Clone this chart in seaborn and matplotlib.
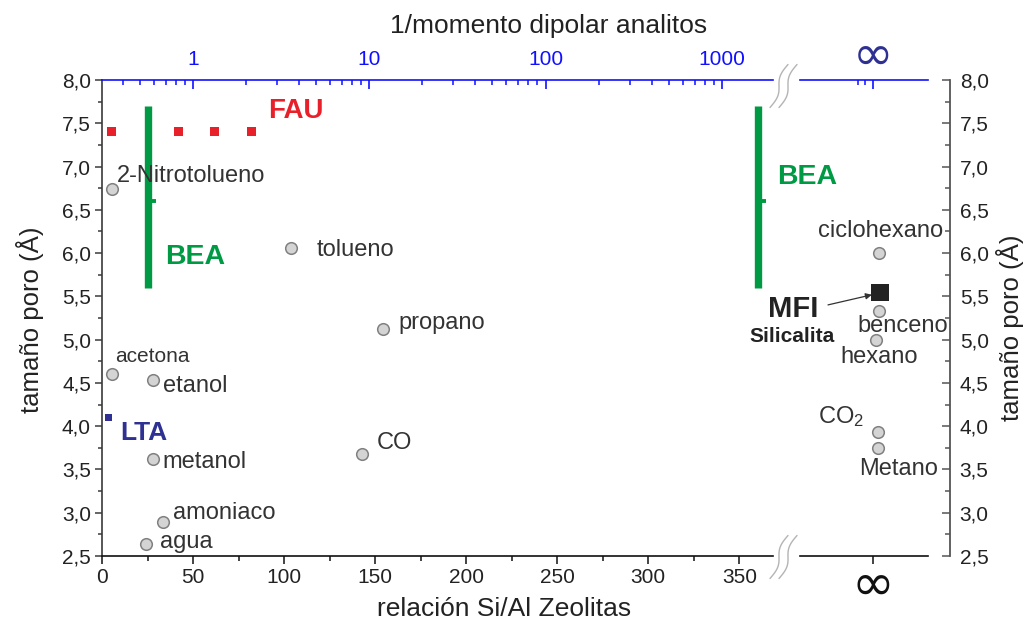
import numpy as np
import pandas as pd
import seaborn as sns
import matplotlib
matplotlib.use("Agg")
import matplotlib.pyplot as plt
from matplotlib.lines import Line2D
from matplotlib.ticker import FixedLocator, LogLocator, FuncFormatter, MultipleLocator, NullFormatter

# ---------------- data ----------------
polar_names = ["2-Nitrotolueno", "acetona", "etanol", "metanol", "tolueno",
               "propano", "CO", "amoniaco", "agua"]
polar_inv_dipole = [0.346, 0.349, 0.596, 0.591, 3.58, 12.0, 9.06, 0.678, 0.539]
polar_pore = [6.74, 4.60, 4.53, 3.62, 6.06, 5.12, 3.68, 2.89, 2.64]

apolar_names = ["ciclohexano", "benceno", "hexano", "CO$_2$", "Metano"]
apolar_pos = [6, 6, 3, 5, 5]          # position in the "infinity" panel (0 = ∞ tick)
apolar_pore = [6.00, 5.33, 5.00, 3.93, 3.75]

fau_si_al = [5, 42, 62, 82]
fau_pore = [7.4, 7.4, 7.4, 7.4]
bea_si_al = [25, 360.4]
bea_pore_min = 5.6
bea_pore_max = 7.7
bea_pore_mid = 6.6
lta_si_al = [3.5]
lta_pore = [4.1]
mfi_pos = [7]
mfi_pore = [5.54]

top_ticks = [1, 10, 100, 1000]
bottom_ticks = [0, 50, 100, 150, 200, 250, 300, 350]

# label offsets in pixels (dx, dy, ha)
polar_off = {"2-Nitrotolueno": (5, 7, "left"), "acetona": (3, 12, "left"),
             "etanol": (10, -12, "left"), "metanol": (10, -9, "left"),
             "tolueno": (26, -8, "left"), "propano": (15, 0, "left"),
             "CO": (15, 5, "left"), "amoniaco": (10, 3, "left"),
             "agua": (14, -4, "left")}
apolar_off = {"ciclohexano": (1.5, 16, "center"), "benceno": (24, -21, "center"),
              "hexano": (3, -23, "center"), "CO$_2$": (-60, 9, "left"),
              "Metano": (21, -27, "center")}

# ---------------- styling ----------------
sns.set_theme(style="ticks")
plt.rcParams["font.family"] = ["Liberation Sans", "DejaVu Sans"]
plt.rcParams["mathtext.fontset"] = "custom"
plt.rcParams["mathtext.rm"] = "Liberation Sans"
plt.rcParams["mathtext.it"] = "Liberation Sans:italic"
plt.rcParams["mathtext.bf"] = "Liberation Sans:bold"

RED = "#e8202a"
GREEN = "#009a44"
INDIGO = "#2e3192"
BLUE = "#1010ff"
TXT = "#333333"
AX = "#3a3a3a"

W, H = 1025, 621
fig = plt.figure(figsize=(W / 100, H / 100), dpi=100)


def fx(px):
    return px / W


def fy(py):
    return 1 - py / H


ax_h = (556 - 80) / H
ax1 = fig.add_axes([fx(102), fy(556), (773 - 102) / W, ax_h])
ax2 = fig.add_axes([fx(800), fy(556), (928 - 800) / W, ax_h], sharey=ax1)
ax2.patch.set_visible(False)

# ---------------- left panel (Si/Al axis) ----------------
for side in ["top", "right"]:
    ax1.spines[side].set_visible(False)
ax1.spines["left"].set_color(AX)
ax1.spines["left"].set_linewidth(1.2)
ax1.spines["bottom"].set_color("#111111")
ax1.spines["bottom"].set_linewidth(1.2)

ax1.vlines(bea_si_al, bea_pore_min, bea_pore_max, color=GREEN, lw=5.3, zorder=3,
           capstyle="butt")
for xb in bea_si_al:
    ax1.hlines(bea_pore_mid, xb, xb + 4.5, color=GREEN, lw=2.8, zorder=3)
sns.scatterplot(x=fau_si_al, y=fau_pore, ax=ax1, marker="s", s=42, color=RED,
                edgecolor="none", zorder=4)
sns.scatterplot(x=lta_si_al, y=lta_pore, ax=ax1, marker="s", s=30, color=INDIGO,
                edgecolor="none", zorder=4)

ax1.set_xlim(0, 368.5)
ax1.set_ylim(2.5, 8.0)
ax1.xaxis.set_major_locator(FixedLocator(bottom_ticks))
ax1.xaxis.set_minor_locator(MultipleLocator(25))
ax1.yaxis.set_major_locator(MultipleLocator(0.5))
ax1.yaxis.set_minor_locator(MultipleLocator(0.25))
ax1.yaxis.set_major_formatter(FuncFormatter(lambda v, p: f"{v:.1f}".replace(".", ",")))
ax1.tick_params(axis="x", which="major", direction="out", length=5.5, width=1.1,
                colors="#111111", labelsize=15, pad=3, labelcolor="#222222")
ax1.tick_params(axis="x", which="minor", direction="out", length=3.5, width=1.1,
                colors="#111111")
ax1.tick_params(axis="y", which="major", direction="out", length=5, width=1.1,
                colors=AX, labelsize=15, pad=3, labelcolor="#222222")
ax1.tick_params(axis="y", which="minor", direction="out", length=3, width=1.1, colors=AX)
ax1.set_xlabel("")
ax1.set_ylabel("")

# zeolite labels
ax1.annotate("FAU", xy=(fau_si_al[-1], fau_pore[-1]), xytext=(17, 14),
             textcoords="offset pixels", ha="left", va="baseline",
             fontsize=20, fontweight="bold", color=RED)
ax1.annotate("BEA", xy=(bea_si_al[0], bea_pore_mid), xytext=(18, -63),
             textcoords="offset pixels", ha="left", va="baseline",
             fontsize=20.5, fontweight="bold", color=GREEN)
ax1.annotate("BEA", xy=(bea_si_al[1], bea_pore_mid), xytext=(19, 17),
             textcoords="offset pixels", ha="left", va="baseline",
             fontsize=20.5, fontweight="bold", color=GREEN, zorder=10,
             annotation_clip=False)
ax1.annotate("LTA", xy=(lta_si_al[0], lta_pore[0]), xytext=(12, -22),
             textcoords="offset pixels", ha="left", va="baseline",
             fontsize=19, fontweight="bold", color=INDIGO)

# ---------------- top log axis (1/dipole moment) ----------------
ax1t = ax1.twiny()
for side in ["left", "right", "bottom"]:
    ax1t.spines[side].set_visible(False)
ax1t.spines["top"].set_color(BLUE)
ax1t.spines["top"].set_linewidth(1.2)
ax1t.set_xscale("log")

df_polar = pd.DataFrame({"x": polar_inv_dipole, "y": polar_pore, "name": polar_names})
sns.scatterplot(data=df_polar, x="x", y="y", ax=ax1t, s=70, color="#d4d4d4",
                edgecolor="#808080", linewidth=1.1, zorder=5)
for n, xv, yv in zip(polar_names, polar_inv_dipole, polar_pore):
    dx, dy, ha = polar_off[n]
    ax1t.annotate(n, xy=(xv, yv), xytext=(dx, dy), textcoords="offset pixels",
                  ha=ha, va="baseline", fontsize=15 if n == "acetona" else 17,
                  color=TXT, zorder=6)

ax1t.set_xlim(0.305, 1950)
ax1t.set_ylim(2.5, 8.0)
ax1t.xaxis.set_major_locator(FixedLocator(top_ticks))
ax1t.xaxis.set_minor_locator(LogLocator(base=10, subs=np.arange(2, 10), numticks=50))
ax1t.xaxis.set_minor_formatter(NullFormatter())
ax1t.xaxis.set_major_formatter(FuncFormatter(lambda v, p: f"{v:g}"))
ax1t.tick_params(axis="x", which="major", direction="in", length=6.5, width=1.2,
                 colors=BLUE, labelsize=15, pad=8)
ax1t.tick_params(axis="x", which="minor", direction="in", length=3.5, width=1.1,
                 colors=BLUE)
ax1t.set_xlabel("")
ax1t.set_ylabel("")

# ---------------- right panel (infinity) ----------------
ax2.spines["left"].set_visible(False)
ax2.spines["top"].set_visible(False)
ax2.spines["bottom"].set_color("#111111")
ax2.spines["bottom"].set_linewidth(1.2)
ax2.spines["right"].set_position(("outward", 15.8))
ax2.spines["right"].set_color("#555555")
ax2.spines["right"].set_linewidth(1.3)

df_apolar = pd.DataFrame({"x": apolar_pos, "y": apolar_pore, "name": apolar_names})
sns.scatterplot(data=df_apolar, x="x", y="y", ax=ax2, s=70, color="#d4d4d4",
                edgecolor="#808080", linewidth=1.1, zorder=5)
sns.scatterplot(x=mfi_pos, y=mfi_pore, ax=ax2, marker="s", s=150, color="#222222",
                edgecolor="none", zorder=6)
for n, xv, yv in zip(apolar_names, apolar_pos, apolar_pore):
    dx, dy, ha = apolar_off[n]
    ax2.annotate(n, xy=(xv, yv), xytext=(dx, dy), textcoords="offset pixels",
                 ha=ha, va="baseline", fontsize=17, color=TXT, zorder=6,
                 annotation_clip=False)

ax2.annotate("MFI", xy=(mfi_pos[0], mfi_pore[0]), xytext=(-87, -24),
             textcoords="offset pixels", ha="center", va="baseline",
             fontsize=21, fontweight="bold", color="#222222", annotation_clip=False)
ax2.annotate("Silicalita", xy=(mfi_pos[0], mfi_pore[0]), xytext=(-88, -49),
             textcoords="offset pixels", ha="center", va="baseline",
             fontsize=15, fontweight="bold", color="#222222", annotation_clip=False)
ax2.annotate("", xy=(mfi_pos[0], mfi_pore[0]), xytext=(-52, -12),
             textcoords="offset pixels", annotation_clip=False,
             arrowprops=dict(arrowstyle="-|>", color="#333333", lw=0.9,
                             shrinkA=0, shrinkB=6, mutation_scale=9))

ax2.set_xlim(-73, 55)
ax2.xaxis.set_major_locator(FixedLocator([0]))
ax2.xaxis.set_major_formatter(FuncFormatter(lambda v, p: "∞"))
ax2.xaxis.set_minor_locator(FixedLocator([]))
ax2.tick_params(axis="x", which="major", direction="out", length=5.5, width=1.1,
                colors="#111111", pad=-2)
for lab in ax2.get_xticklabels():
    lab.set_fontsize(37)
    lab.set_family(["DejaVu Sans"])
    lab.set_color("#111111")
ax2.yaxis.tick_right()
ax2.tick_params(axis="y", which="major", direction="in", length=5.5, width=1.1,
                colors="#555555", labelsize=15, pad=7, labelcolor="#222222",
                left=False, right=True, labelleft=False, labelright=True)
ax2.tick_params(axis="y", which="minor", direction="in", length=3.5, width=1.1,
                colors="#555555", left=False, right=True)
ax2.set_xlabel("")
ax2.set_ylabel("")

ax2t = ax2.twiny()
ax2t.patch.set_visible(False)
for side in ["left", "right", "bottom"]:
    ax2t.spines[side].set_visible(False)
ax2t.spines["top"].set_color(BLUE)
ax2t.spines["top"].set_linewidth(1.2)
ax2t.set_xlim(-73, 55)
ax2t.xaxis.set_major_locator(FixedLocator([0]))
ax2t.xaxis.set_minor_locator(FixedLocator([-15, -8]))
ax2t.xaxis.set_major_formatter(FuncFormatter(lambda v, p: "∞"))
ax2t.xaxis.set_minor_formatter(NullFormatter())
ax2t.tick_params(axis="x", which="major", direction="in", length=6.5, width=1.2,
                 colors=BLUE, pad=0)
ax2t.tick_params(axis="x", which="minor", direction="in", length=3.5, width=1.1,
                 colors=BLUE)
for lab in ax2t.get_xticklabels():
    lab.set_fontsize(35)
    lab.set_family(["DejaVu Sans"])
    lab.set_color(INDIGO)

# ---------------- axis titles ----------------
fig.text(fx(549), fy(33), "1/momento dipolar analitos", ha="center", va="baseline",
         fontsize=19, color="#222222")
fig.text(fx(504), fy(616), "relación Si/Al Zeolitas", ha="center", va="baseline",
         fontsize=19, color="#222222")
fig.text(fx(30), fy(320), "tamaño poro (Å)", ha="center", va="center",
         rotation=90, fontsize=18.5, color="#222222")
fig.text(fx(1010), fy(328), "tamaño poro (Å)", ha="center", va="center",
         rotation=90, fontsize=18.5, color="#222222")

# ---------------- axis-break marks ----------------
t = np.linspace(-1, 1, 60)
for yc in (86, 557):
    for xc in (779, 788):
        xs = xc + 9 * t - 3 * np.sin(np.pi * t)
        ys = yc - 21.5 * t
        fig.add_artist(Line2D(fx(xs), fy(ys), transform=fig.transFigure,
                              color="#b4b4b4", lw=1.0))

fig.savefig("out.png", dpi=100)
